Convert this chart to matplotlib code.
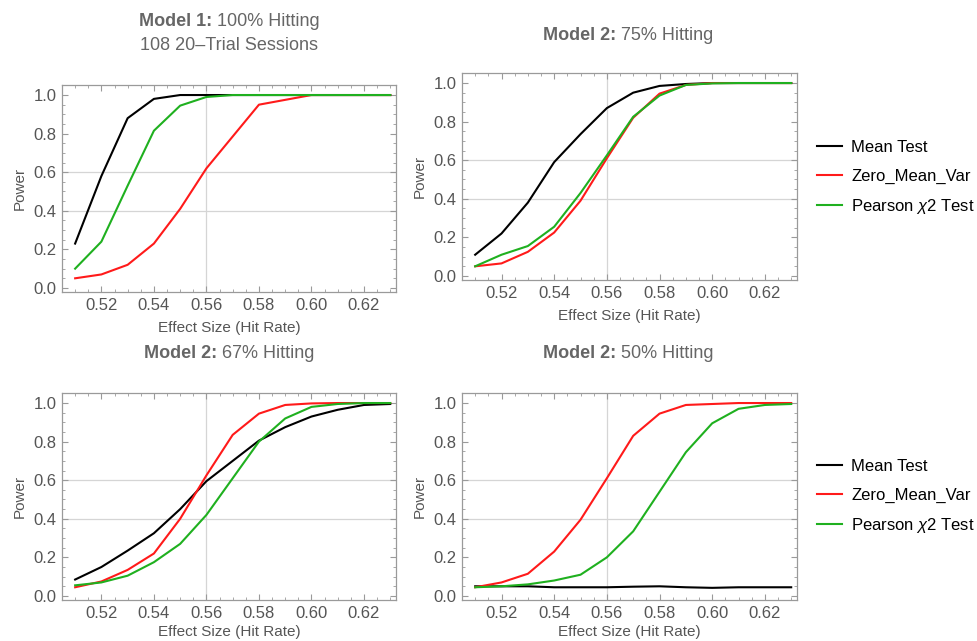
import matplotlib
matplotlib.use("Agg")
import matplotlib.pyplot as plt
from matplotlib.lines import Line2D
from matplotlib.ticker import MultipleLocator, FormatStrFormatter

plt.rcParams['font.family'] = ['Liberation Sans', 'DejaVu Sans']
plt.rcParams['mathtext.fontset'] = 'custom'
plt.rcParams['mathtext.rm'] = 'Liberation Sans'
plt.rcParams['mathtext.it'] = 'Liberation Sans:italic'

hit_rate = [0.51, 0.52, 0.53, 0.54, 0.55, 0.56, 0.57, 0.58, 0.59, 0.60, 0.61, 0.62, 0.63]

# Model 1: 100% hitting
m1_mean = [0.23, 0.58, 0.88, 0.98, 1.0, 1.0, 1.0, 1.0, 1.0, 1.0, 1.0, 1.0, 1.0]
m1_zmv = [0.05, 0.07, 0.12, 0.23, 0.41, 0.62, 0.785, 0.95, 0.975, 1.0, 1.0, 1.0, 1.0]
m1_chi = [0.10, 0.24, 0.53, 0.815, 0.945, 0.99, 1.0, 1.0, 1.0, 1.0, 1.0, 1.0, 1.0]

# Model 2: 75% hitting
m75_mean = [0.11, 0.22, 0.38, 0.59, 0.735, 0.87, 0.95, 0.985, 0.995, 1.0, 1.0, 1.0, 1.0]
m75_zmv = [0.05, 0.065, 0.125, 0.225, 0.39, 0.61, 0.82, 0.945, 0.99, 1.0, 1.0, 1.0, 1.0]
m75_chi = [0.05, 0.11, 0.155, 0.255, 0.43, 0.625, 0.825, 0.935, 0.99, 0.998, 1.0, 1.0, 1.0]

# Model 2: 67% hitting
m67_mean = [0.085, 0.15, 0.235, 0.325, 0.45, 0.595, 0.70, 0.805, 0.875, 0.93, 0.965, 0.99, 0.995]
m67_zmv = [0.045, 0.075, 0.135, 0.22, 0.40, 0.625, 0.835, 0.945, 0.99, 0.998, 1.0, 1.0, 1.0]
m67_chi = [0.055, 0.07, 0.105, 0.175, 0.27, 0.42, 0.61, 0.80, 0.92, 0.98, 0.995, 1.0, 1.0]

# Model 2: 50% hitting
m50_mean = [0.05, 0.05, 0.05, 0.045, 0.045, 0.045, 0.048, 0.05, 0.045, 0.042, 0.045, 0.045, 0.045]
m50_zmv = [0.045, 0.07, 0.115, 0.23, 0.395, 0.61, 0.83, 0.945, 0.99, 0.995, 1.0, 1.0, 1.0]
m50_chi = [0.045, 0.05, 0.06, 0.08, 0.11, 0.20, 0.335, 0.54, 0.745, 0.895, 0.97, 0.99, 0.995]

series_names = ['Mean Test', 'Zero_Mean_Var', r'Pearson $\chi$2 Test']
colors = ['black', '#ff1a1a', '#1fb01f']

W, H = 977, 641
fig = plt.figure(figsize=(W / 100, H / 100), dpi=100)

def px_axes(left, top, right, bottom):
    return fig.add_axes([left / W, 1 - bottom / H, (right - left) / W, (bottom - top) / H])

panels = [
    (px_axes(62, 85, 396, 292), [m1_mean, m1_zmv, m1_chi], 6),
    (px_axes(462, 73, 797, 280), [m75_mean, m75_zmv, m75_chi], 6),
    (px_axes(62, 393, 396, 600), [m67_mean, m67_zmv, m67_chi], 3),
    (px_axes(462, 393, 797, 600), [m50_mean, m50_zmv, m50_chi], 3),
]

frame_col = '#9a9a9a'
text_col = '#555555'

for ax, data, xpad in panels:
    for ys, c in zip(data, colors):
        ax.plot(hit_rate, ys, color=c, lw=1.5)
    ax.set_xlim(0.505, 0.6322)
    ax.set_ylim(-0.021, 1.052)
    ax.axvline(0.56, color='#d5d5d5', lw=0.9, zorder=0)
    for gy in (0.4, 0.6):
        ax.axhline(gy, color='#d5d5d5', lw=0.9, zorder=0)
    ax.xaxis.set_major_locator(MultipleLocator(0.02))
    ax.xaxis.set_minor_locator(MultipleLocator(0.005))
    ax.xaxis.set_major_formatter(FormatStrFormatter('%.2f'))
    ax.yaxis.set_major_locator(MultipleLocator(0.2))
    ax.yaxis.set_minor_locator(MultipleLocator(0.05))
    ax.yaxis.set_major_formatter(FormatStrFormatter('%.1f'))
    ax.tick_params(which='both', direction='in', top=True, right=True,
                   color=frame_col, labelcolor=text_col, labelsize=12)
    ax.tick_params(which='major', length=4, width=0.8, pad=4)
    ax.tick_params(which='minor', length=2, width=0.6)
    for s in ax.spines.values():
        s.set_color(frame_col)
        s.set_linewidth(0.9)
    ax.set_ylabel('Power', color=text_col, fontsize=11, labelpad=5)
    ax.set_xlabel('Effect Size (Hit Rate)', color=text_col, fontsize=11, labelpad=xpad)

# titles: bold lead-in + regular rest, centred together
renderer = fig.canvas.get_renderer()
title_kw = dict(va='center', color='#666666', fontsize=13)

def two_part_title(xc, yc, bold, rest):
    tb = fig.text(0, 1 - yc / H, bold, fontweight='bold', ha='left', **title_kw)
    tr = fig.text(0, 1 - yc / H, rest, ha='left', **title_kw)
    wb = tb.get_window_extent(renderer).width
    wr = tr.get_window_extent(renderer).width
    x0 = xc - (wb + wr) / 2
    tb.set_x(x0 / W)
    tr.set_x((x0 + wb) / W)

two_part_title(229, 22, 'Model 1:', ' 100% Hitting')
fig.text(229 / W, 1 - 45 / H, '108 20\u2013Trial Sessions', ha='center', **title_kw)
two_part_title(628, 35, 'Model 2:', ' 75% Hitting')
two_part_title(229, 353, 'Model 2:', ' 67% Hitting')
two_part_title(628, 353, 'Model 2:', ' 50% Hitting')

handles = [Line2D([], [], color=c, lw=1.5) for c in colors]
for ycen in (178, 497):
    fig.legend(handles, series_names, loc='center left',
               bbox_to_anchor=(817 / W, 1 - ycen / H), frameon=False,
               borderpad=0, borderaxespad=0,
               fontsize=12, handlelength=1.5, handletextpad=0.55,
               labelspacing=0.82)

fig.savefig('out.png', dpi=100)
